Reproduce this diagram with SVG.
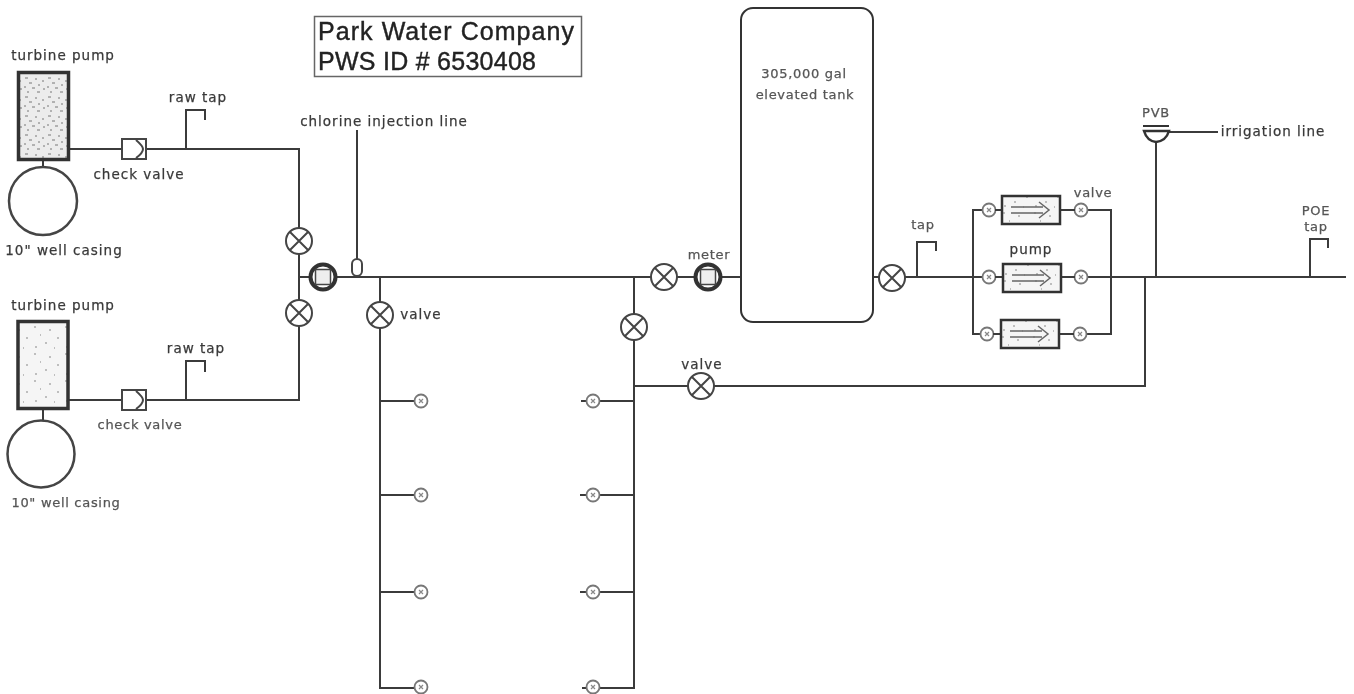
<svg xmlns="http://www.w3.org/2000/svg" width="1354" height="694" viewBox="0 0 1354 694">
<style>
text{font-family:"DejaVu Sans","Liberation Sans",sans-serif;font-size:13.500px;letter-spacing:1px;fill:#3a3a3a;stroke:#3a3a3a;stroke-width:.25px;text-anchor:middle}
.title{font-family:"Liberation Sans",Arial,sans-serif;font-size:25px;letter-spacing:0;fill:#222;stroke:#222;stroke-width:.4px;text-anchor:start}
.small{font-size:13px;letter-spacing:.7px;fill:#555;stroke:#555}
.pipe{fill:none;stroke:#3a3a3a;stroke-width:2}
.thin{fill:#fff;stroke:#444;stroke-width:2}
.sym{fill:none;stroke:#444;stroke-width:2}
</style>
<defs>
<filter id="b" filterUnits="userSpaceOnUse" x="0" y="0" width="1354" height="694"><feGaussianBlur stdDeviation="0.45"/></filter>
<pattern id="st" width="23" height="19" patternUnits="userSpaceOnUse"><rect width="23" height="19" fill="#ececec"/><path d="M2 2h3M12 3h2M19 5h2M6 7h3M15 9h2M1 11h2M9 12h3M20 13h2M4 16h2M14 16h3" stroke="#777" stroke-width="1"/></pattern>
<pattern id="st2" width="31" height="27" patternUnits="userSpaceOnUse"><rect width="31" height="27" fill="#f5f5f5"/><path d="M3 3h2M18 6h2M9 11h1M26 14h2M14 19h2M4 23h2M23 24h1" stroke="#888" stroke-width="1"/></pattern>
<g id="v"><circle r="13" class="thin"/><path class="sym" d="M-9-9L9 9M-9 9L9-9"/></g>
<g id="m"><circle r="12.500" fill="#fff" stroke="#333" stroke-width="4"/><rect x="-7.500" y="-7.500" width="15" height="15" fill="#eee" stroke="#444" stroke-width="1.500"/></g>
<g id="s"><circle r="6.500" fill="#fff" stroke="#777" stroke-width="1.800"/><path d="M-2-2L2 2M-2 2L2-2" stroke="#888" stroke-width="1.200"/></g>
<g id="pump"><rect x="-29" y="-14" width="58" height="28" fill="url(#st2)" stroke="#333" stroke-width="2.500"/><path d="M-20-3H12M-20 3H12M8-8L18 0L8 8" fill="none" stroke="#666" stroke-width="1.500"/></g>
<g id="cv"><rect x="-12" y="-10" width="24" height="20" fill="#fff" stroke="#444" stroke-width="2"/><path class="sym" d="M2-9Q9-3 9 0Q9 4 2 9"/></g>
</defs>
<g filter="url(#b)">
<g id="connectors">
<path class="pipe" d="M69 149H299V400H69M299 277H1346M186 149V110H205V120M186 400V361H205V372"/>
<path class="pipe" d="M357 130V277M380 277V688H428M380 401H427M380 495H428M380 592H427M634 277V688H582M634 401H581M634 495H580M634 592H580M634 386H1145V277"/>
<path class="pipe" d="M917 277V242H936V251M989 210H973V334H989M1081 210H1111V334H1081M1156 277V142M1169 132H1218M1310 277V239H1328V248"/>
<path class="pipe" d="M43 160V168M43 408V421"/>
</g>
<g id="title-box"><rect x="314.500" y="16.500" width="267" height="60" fill="#fff" stroke="#666" stroke-width="1.500"/><text class="title" x="318" y="40" textLength="256" lengthAdjust="spacing">Park Water Company</text><text class="title" x="318" y="70" textLength="218" lengthAdjust="spacing">PWS ID # 6530408</text></g>
<g id="pump-1"><rect x="18.500" y="72.500" width="50" height="87" fill="url(#st)" stroke="#333" stroke-width="3.500"/><text x="63" y="60">turbine pump</text></g>
<g id="casing-1"><circle cx="43" cy="201" r="34" class="thin" style="stroke-width:2.500"/><text x="64" y="255">10" well casing</text></g>
<g id="check-1"><use href="#cv" x="134" y="149"/><text x="139" y="179">check valve</text></g>
<g id="raw-tap-1"><text x="198" y="102">raw tap</text></g>
<g id="pump-2"><rect x="18" y="321.500" width="50" height="87" fill="url(#st2)" stroke="#333" stroke-width="3.500"/><text x="63" y="310">turbine pump</text></g>
<g id="casing-2"><circle cx="41" cy="454" r="33.500" class="thin" style="stroke-width:2.500"/><text class="small" x="66" y="507">10" well casing</text></g>
<g id="check-2"><use href="#cv" x="134" y="400"/><text class="small" x="140" y="429">check valve</text></g>
<g id="raw-tap-2"><text x="196" y="353">raw tap</text></g>
<g id="valve-a"><use href="#v" x="299" y="241"/></g>
<g id="valve-b"><use href="#v" x="299" y="313"/></g>
<g id="meter-a"><use href="#m" x="323" y="277"/></g>
<g id="chlorine"><rect x="352" y="259" width="10" height="17" rx="5" fill="#fff" stroke="#444" stroke-width="2"/><text x="384" y="126">chlorine injection line</text></g>
<g id="valve-c"><use href="#v" x="380" y="315"/><text x="421" y="319">valve</text></g>
<g id="valve-d"><use href="#v" x="634" y="327"/></g>
<g id="valve-e"><use href="#v" x="664" y="277"/></g>
<g id="meter-b"><use href="#m" x="708" y="277"/><text class="small" x="709" y="259">meter</text></g>
<g id="valve-f"><use href="#v" x="701" y="386"/><text x="702" y="369">valve</text></g>
<g id="tank"><rect x="741" y="8" width="132" height="314" rx="12" fill="#fff" stroke="#333" stroke-width="2"/><text class="small" x="804" y="78">305,000 gal</text><text class="small" x="805" y="99">elevated tank</text></g>
<g id="valve-g"><use href="#v" x="892" y="278"/></g>
<g id="tap"><text class="small" x="923" y="229">tap</text></g>
<g id="branch-valves"><use href="#s" x="421" y="401"/><use href="#s" x="421" y="495"/><use href="#s" x="421" y="592"/><use href="#s" x="421" y="687"/><use href="#s" x="593" y="401"/><use href="#s" x="593" y="495"/><use href="#s" x="593" y="592"/><use href="#s" x="593" y="687"/></g>
<g id="pump-set"><use href="#s" x="989" y="210"/><use href="#s" x="989" y="277"/><use href="#s" x="987" y="334"/><use href="#s" x="1081" y="210"/><use href="#s" x="1081" y="277"/><use href="#s" x="1080" y="334"/><path class="pipe" d="M995 210H1002M1060 210H1075M995 277H1002M1060 277H1075M993 334H1001M1060 334H1074"/><use href="#pump" x="1031" y="210"/><use href="#pump" x="1032" y="278"/><use href="#pump" x="1030" y="334"/><text class="small" x="1093" y="197">valve</text><text x="1031" y="254">pump</text></g>
<g id="pvb"><text class="small" x="1156" y="117">PVB</text><path d="M1143 126H1169" stroke="#333" stroke-width="2"/><path d="M1144 131H1169Q1166 141 1156 142Q1147 141 1144 131Z" fill="#fff" stroke="#333" stroke-width="2.500"/><text x="1273" y="136">irrigation line</text></g>
<g id="poe"><text class="small" x="1316" y="215">POE</text><text class="small" x="1316" y="231">tap</text></g>
</g>
</svg>
